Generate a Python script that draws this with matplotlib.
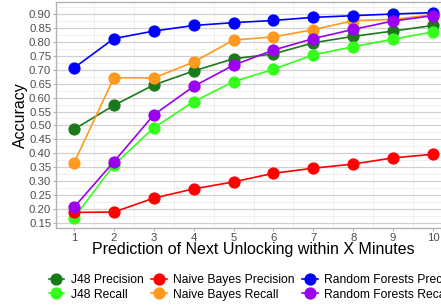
import matplotlib
matplotlib.use('Agg')
import matplotlib.pyplot as plt
from matplotlib.ticker import MultipleLocator

plt.rcParams['font.family'] = ['Liberation Sans', 'DejaVu Sans']

minutes = [1, 2, 3, 4, 5, 6, 7, 8, 9, 10]

j48_precision = [0.486, 0.572, 0.645, 0.695, 0.739, 0.756, 0.796, 0.819, 0.838, 0.858]
j48_recall = [0.169, 0.358, 0.492, 0.585, 0.657, 0.701, 0.753, 0.782, 0.809, 0.835]
nb_precision = [0.189, 0.190, 0.240, 0.273, 0.298, 0.329, 0.347, 0.362, 0.384, 0.397]
nb_recall = [0.365, 0.671, 0.670, 0.727, 0.806, 0.817, 0.843, 0.875, 0.880, 0.896]
rf_precision = [0.706, 0.811, 0.838, 0.858, 0.868, 0.876, 0.887, 0.893, 0.899, 0.904]
rf_recall = [0.207, 0.370, 0.538, 0.640, 0.716, 0.770, 0.811, 0.844, 0.874, 0.893]

series = [
    ('J48 Precision', j48_precision, '#1a7a1a'),
    ('J48 Recall', j48_recall, '#33ff1a'),
    ('Naive Bayes Precision', nb_precision, '#ff0000'),
    ('Naive Bayes Recall', nb_recall, '#ff9a1f'),
    ('Random Forests Precision', rf_precision, '#0000ff'),
    ('Random Forests Recall', rf_recall, '#9b00f0'),
]

fig = plt.figure(figsize=(4.41, 3.07), dpi=100)
ax = fig.add_axes([0.127, 0.2573, 0.8957, 0.7362])

for name, vals, col in series:
    ax.plot(minutes, vals, '-', color=col, lw=1.2, marker='o', ms=7.8,
            label=name, zorder=3)

ax.set_xlim(0.55, 10.45)
ax.set_ylim(0.133, 0.942)
ax.set_xticks(minutes)
ax.yaxis.set_major_locator(MultipleLocator(0.05))
ax.yaxis.set_minor_locator(MultipleLocator(0.025))
ax.xaxis.set_minor_locator(MultipleLocator(0.5))
ax.yaxis.set_major_formatter(matplotlib.ticker.FormatStrFormatter('%.2f'))

ax.grid(True, which='major', axis='y', color='#d0d0d0', lw=0.9)
ax.grid(True, which='minor', axis='y', color='#ececec', lw=0.6)
ax.grid(True, which='minor', axis='x', color='#ececec', lw=0.6)
ax.set_axisbelow(True)

for s in ax.spines.values():
    s.set_color('#b3b3b3')
    s.set_linewidth(1.0)
ax.tick_params(which='major', length=2.5, color='#b3b3b3', labelsize=8.2,
               labelcolor='#4d4d4d', pad=1)
ax.tick_params(which='minor', length=0)

ax.set_xlabel('Prediction of Next Unlocking within X Minutes', fontsize=11.5, va='center')
ax.xaxis.set_label_coords(0.5, -0.097)
ax.set_ylabel('Accuracy', fontsize=11.5, va='center')
ax.yaxis.set_label_coords(-0.09, 0.5)

fig.legend(loc='upper left', bbox_to_anchor=(0.11, 0.107), ncol=3, frameon=False,
           fontsize=8.7, handlelength=1.3, handletextpad=0.55, columnspacing=0.6,
           labelspacing=0.2, borderaxespad=0, borderpad=0)

fig.savefig('out.png', dpi=100)
